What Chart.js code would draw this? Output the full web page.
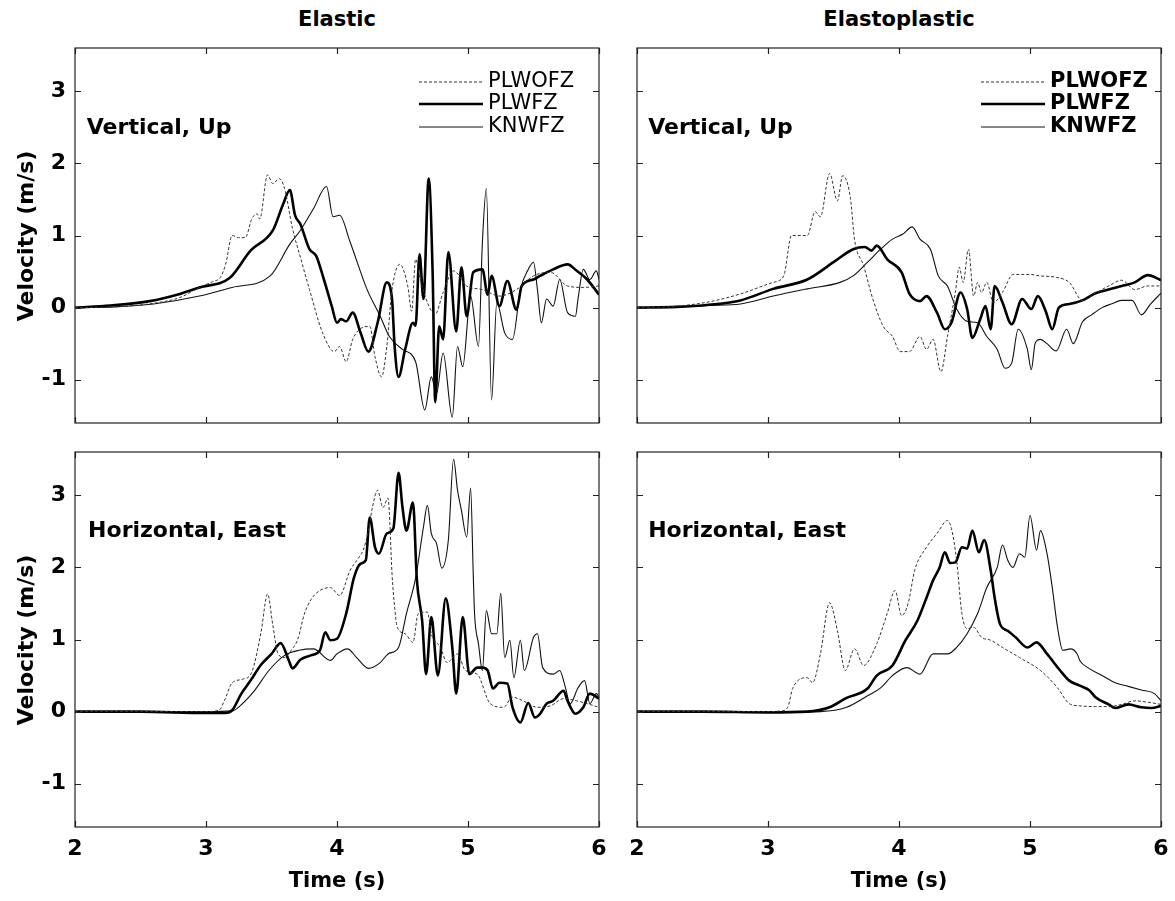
<!DOCTYPE html>
<html>
<head>
<meta charset="utf-8">
<script src="https://cdn.jsdelivr.net/npm/chart.js@4.4.1/dist/chart.umd.min.js"></script>
<style>
  body { margin: 0; background: #fff; width: 1175px; height: 901px; position: relative; overflow: hidden; }
  canvas { position: absolute; }
  .txt { position: absolute; font-family: "DejaVu Sans", sans-serif; font-weight: bold; font-size: 21px; color: #000; white-space: nowrap; transform: translate(-50%, -50%); }
  .rot { font-size: 22px; transform: translate(-50%, -50%) rotate(-90deg); }
</style>
</head>
<body>
<canvas id="c1" width="610" height="392" style="left:0;top:38px"></canvas>
<canvas id="c2" width="548" height="392" style="left:627px;top:38px"></canvas>
<canvas id="c3" width="610" height="459" style="left:0;top:442px"></canvas>
<canvas id="c4" width="548" height="459" style="left:627px;top:442px"></canvas>

<div class="txt" style="left:337px;top:19px">Elastic</div>
<div class="txt" style="left:899px;top:19px">Elastoplastic</div>
<div class="txt" style="left:337px;top:880px">Time (s)</div>
<div class="txt" style="left:899px;top:880px">Time (s)</div>
<div class="txt rot" style="left:25px;top:236px">Velocity (m/s)</div>
<div class="txt rot" style="left:25px;top:640px">Velocity (m/s)</div>

<script>
// ── 데이터 ──
const seriesNames = ['PLWOFZ', 'PLWFZ', 'KNWFZ'];
const xTicks = [2, 3, 4, 5, 6];
const yTicks = [-1, 0, 1, 2, 3];

// Elastic, Vertical Up  [time, velocity]
const elUpPLWOFZ = [[2.0,0],[2.3,0.01],[2.6,0.06],[2.8,0.14],[2.95,0.28],[3.05,0.36],[3.11,0.42],[3.15,0.6],[3.2,1.0],[3.25,0.97],[3.3,0.97],[3.35,1.23],[3.39,1.3],[3.41,1.23],[3.47,1.84],[3.51,1.72],[3.56,1.79],[3.6,1.65],[3.66,1.1],[3.72,0.7],[3.79,0.25],[3.89,-0.35],[3.98,-0.61],[4.02,-0.54],[4.07,-0.75],[4.12,-0.44],[4.19,-0.28],[4.25,-0.26],[4.29,-0.68],[4.34,-0.96],[4.38,-0.54],[4.42,0.25],[4.48,0.6],[4.54,0.3],[4.57,-0.05],[4.6,0.67],[4.63,0.44],[4.69,0.07],[4.75,-0.09],[4.81,0.21],[4.89,0.51],[4.99,0.3],[5.11,0.25],[5.24,0.16],[5.37,0.25],[5.5,0.44],[5.63,0.49],[5.76,0.3],[5.88,0.28],[6.0,0.3]];
const elUpPLWFZ = [[2.0,0],[2.27,0.03],[2.57,0.09],[2.8,0.19],[2.95,0.28],[3.18,0.41],[3.34,0.79],[3.51,1.07],[3.59,1.44],[3.64,1.63],[3.68,1.28],[3.72,1.16],[3.79,0.81],[3.84,0.72],[3.9,0.39],[3.96,0.02],[4.0,-0.21],[4.03,-0.16],[4.07,-0.19],[4.12,-0.07],[4.18,-0.35],[4.24,-0.61],[4.31,-0.21],[4.38,0.35],[4.42,0.12],[4.44,-0.54],[4.47,-0.96],[4.52,-0.58],[4.58,-0.21],[4.6,-0.25],[4.63,0.74],[4.66,0.12],[4.7,1.79],[4.73,0.49],[4.75,-1.31],[4.78,-0.26],[4.81,-0.44],[4.85,0.77],[4.91,-0.33],[4.95,0.56],[4.99,-0.12],[5.04,0.49],[5.11,0.53],[5.15,0.18],[5.18,0.44],[5.24,0.02],[5.3,0.37],[5.37,-0.03],[5.41,0.3],[5.5,0.39],[5.55,0.44],[5.65,0.53],[5.76,0.6],[5.83,0.51],[5.91,0.39],[6.0,0.18]];
const elUpKNWFZ = [[2.0,0],[2.3,0.01],[2.6,0.05],[2.95,0.16],[3.2,0.28],[3.49,0.44],[3.64,0.88],[3.72,1.07],[3.82,1.37],[3.92,1.68],[3.97,1.26],[4.02,1.28],[4.1,0.91],[4.23,0.25],[4.33,-0.12],[4.4,-0.4],[4.5,-0.58],[4.6,-0.75],[4.67,-1.42],[4.72,-0.96],[4.76,-1.19],[4.81,-0.63],[4.88,-1.52],[4.92,-0.54],[4.96,-0.82],[5.02,0.16],[5.08,-0.54],[5.11,0.91],[5.14,1.65],[5.18,-1.28],[5.22,0.07],[5.28,-0.35],[5.34,-0.44],[5.4,0.25],[5.46,0.53],[5.5,0.63],[5.53,0.25],[5.56,-0.21],[5.6,0.12],[5.65,0.02],[5.7,0.39],[5.76,-0.07],[5.82,-0.12],[5.84,0.12],[5.88,0.53],[5.93,0.39],[5.98,0.51],[6.0,0.39]];

// Elastoplastic, Vertical Up
const epUpPLWOFZ = [[2.0,0],[2.3,0.02],[2.55,0.08],[2.79,0.19],[3.04,0.35],[3.12,0.44],[3.18,1.0],[3.3,1.0],[3.36,1.33],[3.4,1.26],[3.47,1.86],[3.53,1.48],[3.57,1.83],[3.63,1.51],[3.66,0.95],[3.73,0.58],[3.8,0.12],[3.88,-0.26],[3.95,-0.4],[4.01,-0.61],[4.08,-0.61],[4.16,-0.4],[4.21,-0.58],[4.26,-0.44],[4.32,-0.89],[4.37,-0.4],[4.43,0.21],[4.46,0.56],[4.49,0.35],[4.53,0.81],[4.57,0.16],[4.6,0.35],[4.63,0.21],[4.67,0.35],[4.72,0.07],[4.79,0.21],[4.87,0.46],[5.0,0.46],[5.08,0.44],[5.2,0.42],[5.3,0.35],[5.4,0.1],[5.5,0.2],[5.6,0.3],[5.7,0.38],[5.8,0.25],[5.9,0.3],[6.0,0.3]];
const epUpPLWFZ = [[2.0,0],[2.3,0.01],[2.55,0.04],[2.79,0.1],[3.04,0.26],[3.3,0.39],[3.5,0.63],[3.65,0.81],[3.74,0.84],[3.79,0.79],[3.83,0.86],[3.91,0.67],[4.02,0.49],[4.08,0.19],[4.16,0.09],[4.21,0.16],[4.29,-0.07],[4.35,-0.3],[4.4,-0.21],[4.47,0.21],[4.52,-0.02],[4.56,-0.42],[4.62,-0.16],[4.66,0.02],[4.7,-0.3],[4.73,0.3],[4.79,0.07],[4.86,-0.23],[4.94,0.12],[5.01,-0.02],[5.06,0.16],[5.12,-0.05],[5.17,-0.3],[5.22,0.0],[5.3,0.05],[5.4,0.1],[5.5,0.2],[5.6,0.25],[5.7,0.3],[5.8,0.35],[5.9,0.45],[6.0,0.38]];
const epUpKNWFZ = [[2.0,0],[2.3,0.01],[2.55,0.03],[2.79,0.05],[3.04,0.16],[3.3,0.26],[3.55,0.35],[3.65,0.44],[3.76,0.63],[3.86,0.81],[3.95,0.95],[4.03,1.02],[4.1,1.12],[4.16,0.95],[4.24,0.81],[4.3,0.44],[4.37,0.3],[4.44,-0.02],[4.52,-0.19],[4.6,-0.21],[4.67,-0.4],[4.75,-0.58],[4.81,-0.84],[4.86,-0.77],[4.91,-0.3],[4.98,-0.58],[5.01,-0.86],[5.04,-0.49],[5.08,-0.44],[5.13,-0.5],[5.2,-0.6],[5.28,-0.3],[5.33,-0.5],[5.4,-0.2],[5.47,-0.1],[5.55,0.0],[5.62,0.05],[5.7,0.1],[5.78,0.1],[5.85,-0.1],[5.92,0.05],[6.0,0.2]];

// Elastic, Horizontal East
const elEastPLWOFZ = [[2.0,0],[2.5,0],[3.0,0],[3.1,0.02],[3.14,0.15],[3.2,0.4],[3.28,0.45],[3.35,0.55],[3.42,1.1],[3.47,1.63],[3.51,1.2],[3.55,0.8],[3.6,0.75],[3.65,0.85],[3.7,1.0],[3.75,1.35],[3.8,1.55],[3.87,1.68],[3.95,1.72],[4.02,1.61],[4.1,1.96],[4.16,2.12],[4.2,2.24],[4.24,2.51],[4.27,2.83],[4.31,3.07],[4.35,2.83],[4.39,2.96],[4.4,2.75],[4.42,1.91],[4.44,1.45],[4.46,1.17],[4.52,1.08],[4.58,0.96],[4.62,1.36],[4.69,1.38],[4.72,1.08],[4.79,0.89],[4.84,0.68],[4.92,0.8],[4.98,0.57],[5.07,0.52],[5.17,0.11],[5.27,0.06],[5.34,0.2],[5.42,0.15],[5.53,0.06],[5.63,0.08],[5.73,0.18],[5.83,0.15],[5.91,0.11],[6.0,0.06]];
const elEastPLWFZ = [[2.0,0],[2.5,0],[3.0,-0.02],[3.15,-0.02],[3.2,0.02],[3.27,0.25],[3.34,0.43],[3.42,0.65],[3.5,0.8],[3.57,0.95],[3.63,0.72],[3.66,0.6],[3.72,0.72],[3.8,0.78],[3.87,0.85],[3.91,1.1],[3.95,0.99],[4.0,1.01],[4.07,1.36],[4.13,1.86],[4.18,2.05],[4.22,2.1],[4.25,2.69],[4.29,2.28],[4.32,2.19],[4.38,2.47],[4.43,2.54],[4.47,3.31],[4.5,2.83],[4.53,2.51],[4.58,2.9],[4.61,1.82],[4.65,1.26],[4.68,0.52],[4.72,1.31],[4.77,0.5],[4.83,1.57],[4.88,0.89],[4.91,0.25],[4.96,1.31],[5.01,0.52],[5.07,0.61],[5.11,0.61],[5.15,0.57],[5.19,0.32],[5.24,0.4],[5.3,0.39],[5.34,0.06],[5.4,-0.15],[5.46,0.12],[5.51,-0.08],[5.55,-0.03],[5.6,0.11],[5.65,0.15],[5.73,0.29],[5.76,0.15],[5.82,-0.03],[5.88,0.06],[5.93,0.25],[6.0,0.18]];
const elEastKNWFZ = [[2.0,0],[2.5,0],[3.0,0],[3.2,0.01],[3.26,0.08],[3.37,0.29],[3.48,0.57],[3.6,0.78],[3.71,0.85],[3.82,0.87],[3.95,0.71],[4.0,0.8],[4.08,0.87],[4.15,0.75],[4.24,0.6],[4.33,0.68],[4.39,0.8],[4.47,0.89],[4.53,1.36],[4.6,1.85],[4.66,2.56],[4.69,2.86],[4.72,2.47],[4.76,2.33],[4.8,1.99],[4.85,2.38],[4.89,3.5],[4.92,3.07],[4.95,2.79],[4.99,2.42],[5.02,3.1],[5.04,1.91],[5.05,1.36],[5.08,0.94],[5.11,0.57],[5.14,1.4],[5.18,1.08],[5.22,1.08],[5.25,1.64],[5.28,0.75],[5.32,0.99],[5.35,0.47],[5.4,0.99],[5.43,0.57],[5.5,1.03],[5.53,1.08],[5.57,0.61],[5.65,0.52],[5.7,0.57],[5.74,0.36],[5.78,0.11],[5.84,0.33],[5.89,0.43],[5.93,0.11],[5.98,0.25],[6.0,0.2]];

// Elastoplastic, Horizontal East
const epEastPLWOFZ = [[2.0,0],[2.5,0],[3.0,0],[3.1,0.01],[3.15,0.06],[3.19,0.33],[3.3,0.47],[3.34,0.4],[3.4,0.8],[3.47,1.51],[3.53,1.12],[3.59,0.57],[3.66,0.87],[3.73,0.64],[3.83,0.94],[3.91,1.36],[3.97,1.68],[4.02,1.33],[4.07,1.5],[4.12,1.96],[4.21,2.28],[4.29,2.47],[4.37,2.65],[4.4,2.54],[4.44,2.1],[4.48,1.36],[4.52,1.15],[4.57,1.17],[4.63,1.03],[4.7,0.99],[4.79,0.89],[4.92,0.75],[5.08,0.57],[5.21,0.33],[5.3,0.11],[5.38,0.08],[5.5,0.07],[5.6,0.07],[5.7,0.1],[5.8,0.15],[5.9,0.13],[6.0,0.1]];
const epEastPLWFZ = [[2.0,0],[2.5,0],[3.0,-0.01],[3.3,0],[3.47,0.06],[3.6,0.19],[3.76,0.32],[3.83,0.5],[3.95,0.64],[4.05,0.99],[4.14,1.26],[4.21,1.58],[4.26,1.82],[4.31,2.0],[4.35,2.21],[4.39,2.06],[4.43,2.07],[4.48,2.28],[4.52,2.26],[4.56,2.51],[4.61,2.21],[4.65,2.38],[4.7,1.96],[4.73,1.58],[4.77,1.22],[4.83,1.12],[4.89,1.03],[4.98,0.89],[5.05,0.96],[5.13,0.8],[5.23,0.57],[5.3,0.43],[5.38,0.36],[5.45,0.3],[5.5,0.2],[5.6,0.1],[5.65,0.05],[5.75,0.1],[5.85,0.06],[5.93,0.05],[6.0,0.08]];
const epEastKNWFZ = [[2.0,0],[2.5,0],[3.0,-0.01],[3.4,0],[3.6,0.06],[3.76,0.22],[3.86,0.33],[3.95,0.5],[4.06,0.61],[4.16,0.52],[4.26,0.8],[4.37,0.8],[4.44,0.89],[4.52,1.08],[4.6,1.36],[4.67,1.72],[4.75,2.0],[4.79,2.31],[4.83,2.1],[4.87,2.0],[4.92,2.19],[4.96,2.14],[5.0,2.72],[5.05,2.24],[5.08,2.51],[5.13,2.19],[5.17,1.72],[5.21,1.17],[5.25,0.85],[5.31,0.87],[5.36,0.8],[5.38,0.71],[5.45,0.6],[5.55,0.5],[5.65,0.4],[5.75,0.35],[5.85,0.3],[5.95,0.25],[6.0,0.15]];

// ── 스타일 ──
const lineStyles = [
  { color: '#333', width: 1, dash: [3, 2] },   // PLWOFZ
  { color: '#000', width: 2.6, dash: [] },     // PLWFZ
  { color: '#111', width: 1.1, dash: [] }      // KNWFZ
];
const FONT = '"DejaVu Sans", sans-serif';

/** 프레임, 안쪽 눈금, 라벨, 범례 */
const panelPlugin = {
  id: 'panel',
  afterDatasetsDraw(chart, args, opts) {
    const { ctx, chartArea: a, scales } = chart;
    ctx.save();
    ctx.strokeStyle = '#222';
    ctx.lineWidth = 1.2;
    ctx.strokeRect(a.left, a.top, a.right - a.left, a.bottom - a.top);
    ctx.beginPath();
    xTicks.forEach(v => {
      const px = Math.round(scales.x.getPixelForValue(v)) + 0.5;
      ctx.moveTo(px, a.bottom); ctx.lineTo(px, a.bottom - 6);
      ctx.moveTo(px, a.top); ctx.lineTo(px, a.top + 6);
    });
    yTicks.forEach(v => {
      const py = Math.round(scales.y.getPixelForValue(v)) + 0.5;
      ctx.moveTo(a.left, py); ctx.lineTo(a.left + 6, py);
      ctx.moveTo(a.right, py); ctx.lineTo(a.right - 6, py);
    });
    ctx.stroke();

    // 패널 라벨
    ctx.fillStyle = '#000';
    ctx.font = `bold 22px ${FONT}`;
    ctx.textBaseline = 'middle';
    ctx.fillText(opts.label, scales.x.getPixelForValue(opts.labelX), scales.y.getPixelForValue(opts.labelY));

    // 범례
    if (opts.legend) {
      ctx.font = `${opts.legendBold ? 'bold ' : ''}21px ${FONT}`;
      opts.legendRows.forEach((ry, i) => {
        const st = lineStyles[i];
        const y = a.top + ry;
        ctx.strokeStyle = st.color;
        ctx.lineWidth = st.width;
        ctx.setLineDash(st.dash);
        ctx.beginPath();
        ctx.moveTo(a.left + 344, y); ctx.lineTo(a.left + 408, y);
        ctx.stroke();
        ctx.setLineDash([]);
        ctx.fillText(seriesNames[i], a.left + 413, y);
      });
    }
    ctx.restore();
  }
};

function makeChart(id, data, cfg) {
  const datasets = data.map((s, i) => ({
    label: seriesNames[i],
    data: s.map(p => ({ x: p[0], y: p[1] })),
    borderColor: lineStyles[i].color,
    borderWidth: lineStyles[i].width,
    borderDash: lineStyles[i].dash,
    pointRadius: 0,
    cubicInterpolationMode: 'monotone',
    fill: false
  }));
  new Chart(document.getElementById(id), {
    type: 'line',
    data: { datasets },
    options: {
      responsive: false,
      animation: false,
      events: [],
      layout: { padding: { top: 10, right: cfg.padRight, left: 0, bottom: 0 } },
      plugins: {
        legend: { display: false },
        tooltip: { enabled: false },
        panel: cfg.panel
      },
      scales: {
        x: {
          type: 'linear', min: 2, max: 6,
          grid: { display: false, drawTicks: false },
          border: { display: false },
          afterBuildTicks: s => { s.ticks = xTicks.map(v => ({ value: v })); },
          afterFit: s => { s.height = cfg.xHeight; s.paddingLeft = 0; s.paddingRight = 0; },
          ticks: { display: cfg.xLabels, color: '#000', padding: 9, font: { family: FONT, weight: 'bold', size: 22 } }
        },
        y: {
          type: 'linear', min: -1.6, max: 3.6,
          grid: { display: false, drawTicks: false },
          border: { display: false },
          afterBuildTicks: s => { s.ticks = yTicks.map(v => ({ value: v })); },
          afterFit: s => { s.width = cfg.yWidth; s.paddingTop = 0; s.paddingBottom = 0; },
          ticks: { display: cfg.yLabels, color: '#000', padding: 9, font: { family: FONT, weight: 'bold', size: 22 } }
        }
      }
    },
    plugins: [panelPlugin]
  });
}

const legendRows = [34, 56, 79];

makeChart('c1', [elUpPLWOFZ, elUpPLWFZ, elUpKNWFZ], {
  padRight: 11, xHeight: 7, yWidth: 75, xLabels: false, yLabels: true,
  panel: { label: 'Vertical, Up', labelX: 2.09, labelY: 2.49, legend: true, legendBold: false, legendRows }
});
makeChart('c2', [epUpPLWOFZ, epUpPLWFZ, epUpKNWFZ], {
  padRight: 14, xHeight: 7, yWidth: 10, xLabels: false, yLabels: false,
  panel: { label: 'Vertical, Up', labelX: 2.085, labelY: 2.49, legend: true, legendBold: true, legendRows }
});
makeChart('c3', [elEastPLWOFZ, elEastPLWFZ, elEastKNWFZ], {
  padRight: 11, xHeight: 74, yWidth: 75, xLabels: true, yLabels: true,
  panel: { label: 'Horizontal, East', labelX: 2.1, labelY: 2.5, legend: false }
});
makeChart('c4', [epEastPLWOFZ, epEastPLWFZ, epEastKNWFZ], {
  padRight: 14, xHeight: 74, yWidth: 10, xLabels: true, yLabels: false,
  panel: { label: 'Horizontal, East', labelX: 2.085, labelY: 2.5, legend: false }
});
</script>
</body>
</html>
